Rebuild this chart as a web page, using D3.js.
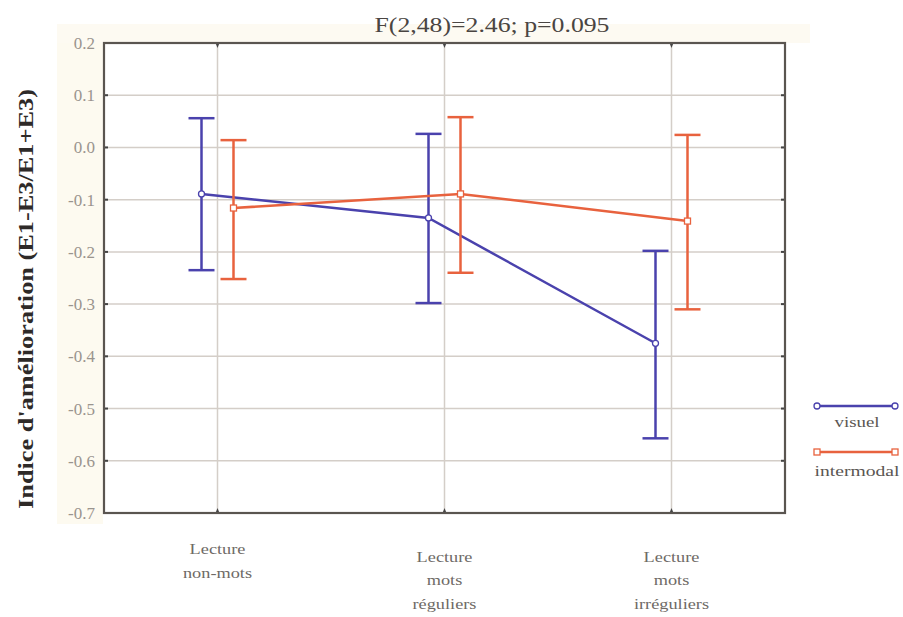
<!DOCTYPE html>
<html><head><meta charset="utf-8">
<script src="https://cdn.jsdelivr.net/npm/d3@7"></script>
<style>body{margin:0;background:#fff}</style>
</head><body>
<svg id="c" width="903" height="617"></svg>
<script>
const categories = [["Lecture","non-mots"],["Lecture","mots","réguliers"],["Lecture","mots","irréguliers"]];
const seriesNames = ["visuel","intermodal"];
const visuelMean = [-0.089, -0.135, -0.375];
const visuelUpper = [0.056, 0.026, -0.198];
const visuelLower = [-0.235, -0.298, -0.557];
const interMean = [-0.116, -0.089, -0.141];
const interUpper = [0.014, 0.058, 0.024];
const interLower = [-0.252, -0.240, -0.310];
const yTicks = [0.2,0.1,0.0,-0.1,-0.2,-0.3,-0.4,-0.5,-0.6,-0.7];
const title = "F(2,48)=2.46; p=0.095";
const yLabel = "Indice d'amélioration (E1-E3/E1+E3)";

const svg = d3.select("#c");
const L=104,R=785,T=43,B=513;
const x = d3.scalePoint().domain([0,1,2]).range([L,R]).padding(0.5);
const y = d3.scaleLinear().domain([-0.7,0.2]).range([B,T]);
const colors = ["#4a42ad","#e8623e"];
const offs = [-16,16];
const SERIF = "Liberation Serif, Times New Roman, serif";

// cream backgrounds
svg.append("rect").attr("x",57).attr("y",24).attr("width",46).attr("height",500).attr("fill","#fdfaf0");
svg.append("rect").attr("x",57).attr("y",24).attr("width",753).attr("height",19).attr("fill","#fdfaf2");
svg.append("rect").attr("x",L).attr("y",T).attr("width",R-L).attr("height",B-T).attr("fill","#fff");

// grid
svg.append("g").selectAll("line").data(yTicks.slice(1,-1)).join("line")
  .attr("x1",L).attr("x2",R).attr("y1",d=>y(d)).attr("y2",d=>y(d))
  .attr("stroke","#d4cec8").attr("stroke-width",1.5);
svg.append("g").selectAll("line").data([0,1,2]).join("line")
  .attr("x1",d=>x(d)).attr("x2",d=>x(d)).attr("y1",T).attr("y2",B)
  .attr("stroke","#d4cec8").attr("stroke-width",1.5);

// axes
const yAxis = d3.axisLeft(y).tickValues(yTicks).tickSize(0).tickPadding(9)
  .tickFormat(d=>d3.format(".1f")(d).replace("−","-"));
const ga = svg.append("g").attr("transform",`translate(${L},0)`).call(yAxis);
ga.select(".domain").remove();
ga.selectAll("text").attr("font-family",SERIF).attr("font-size",17).attr("fill","#9a948e");

// small tick marks
const tk = svg.append("g").attr("fill","#444");
yTicks.slice(1,-1).forEach(v=>{
  tk.append("rect").attr("x",L).attr("y",y(v)-1).attr("width",4).attr("height",2);
  tk.append("rect").attr("x",R-4).attr("y",y(v)-1).attr("width",4).attr("height",2);
});
[0,1,2].forEach(i=>{
  tk.append("path").attr("d",`M${x(i)-2},${T} L${x(i)+2},${T} L${x(i)},${T+5}Z`);
  tk.append("path").attr("d",`M${x(i)-2},${B} L${x(i)+2},${B} L${x(i)},${B-5}Z`);
});

// frame
svg.append("rect").attr("x",L).attr("y",T).attr("width",R-L).attr("height",B-T)
  .attr("fill","none").attr("stroke","#5a5550").attr("stroke-width",2.2);

// category labels (horizontally stretched like the reference)
const lineYs = [[554,578],[562,585,609],[562,585,609]];
categories.forEach((lines,i)=>{
  lines.forEach((t,j)=>{
    svg.append("text").attr("transform",`translate(${x(i)},${lineYs[i][j]}) scale(1.22,1)`).attr("text-anchor","middle")
      .attr("font-family",SERIF).attr("font-size",15).attr("fill","#6e6a66").text(t);
  });
});

// series
const data = [
  {mean:visuelMean, up:visuelUpper, lo:visuelLower},
  {mean:interMean, up:interUpper, lo:interLower}
];
data.forEach((s,k)=>{
  const g = svg.append("g");
  const px = i=>x(i)+offs[k];
  s.mean.forEach((m,i)=>{
    g.append("line").attr("x1",px(i)).attr("x2",px(i)).attr("y1",y(s.up[i])).attr("y2",y(s.lo[i]))
      .attr("stroke",colors[k]).attr("stroke-width",2.5);
    [s.up[i],s.lo[i]].forEach(v=>g.append("line").attr("x1",px(i)-13).attr("x2",px(i)+13)
      .attr("y1",y(v)).attr("y2",y(v)).attr("stroke",colors[k]).attr("stroke-width",2.5));
  });
  g.append("path").datum(s.mean).attr("fill","none").attr("stroke",colors[k]).attr("stroke-width",2.5)
    .attr("d",d3.line().x((d,i)=>px(i)).y(d=>y(d)));
  s.mean.forEach((m,i)=>{
    if(k===0) g.append("circle").attr("cx",px(i)).attr("cy",y(m)).attr("r",3).attr("fill","#fff").attr("stroke",colors[k]).attr("stroke-width",1.3);
    else g.append("rect").attr("x",px(i)-3).attr("y",y(m)-3).attr("width",6).attr("height",6).attr("fill","#fff").attr("stroke",colors[k]).attr("stroke-width",1.3);
  });
});

// title
svg.append("text").attr("x",492).attr("y",32).attr("text-anchor","middle")
  .attr("font-family",SERIF).attr("font-size",20).attr("fill","#4a4542")
  .attr("textLength",235).attr("lengthAdjust","spacingAndGlyphs").text(title);

// y label
svg.append("text").attr("transform","translate(33,299) rotate(-90)").attr("text-anchor","middle")
  .attr("font-family",SERIF).attr("font-weight","bold").attr("font-size",20).attr("fill","#2e2a28")
  .attr("textLength",420).attr("lengthAdjust","spacingAndGlyphs").text(yLabel);

// legend
const lg = svg.append("g");
const legY = [406,452], legTY=[427,476], legW=[45,85];
seriesNames.forEach((n,k)=>{
  lg.append("line").attr("x1",817).attr("x2",895).attr("y1",legY[k]).attr("y2",legY[k]).attr("stroke",colors[k]).attr("stroke-width",2.5);
  [817,895].forEach(xx=>{
    if(k===0) lg.append("circle").attr("cx",xx).attr("cy",legY[k]).attr("r",3).attr("fill","#fff").attr("stroke",colors[k]).attr("stroke-width",1.3);
    else lg.append("rect").attr("x",xx-3).attr("y",legY[k]-3).attr("width",6).attr("height",6).attr("fill","#fff").attr("stroke",colors[k]).attr("stroke-width",1.3);
  });
  lg.append("text").attr("x",857).attr("y",legTY[k]).attr("text-anchor","middle")
    .attr("font-family",SERIF).attr("font-size",15).attr("fill","#5a5652")
    .attr("textLength",legW[k]).attr("lengthAdjust","spacingAndGlyphs").text(n);
});
</script>
</body></html>
